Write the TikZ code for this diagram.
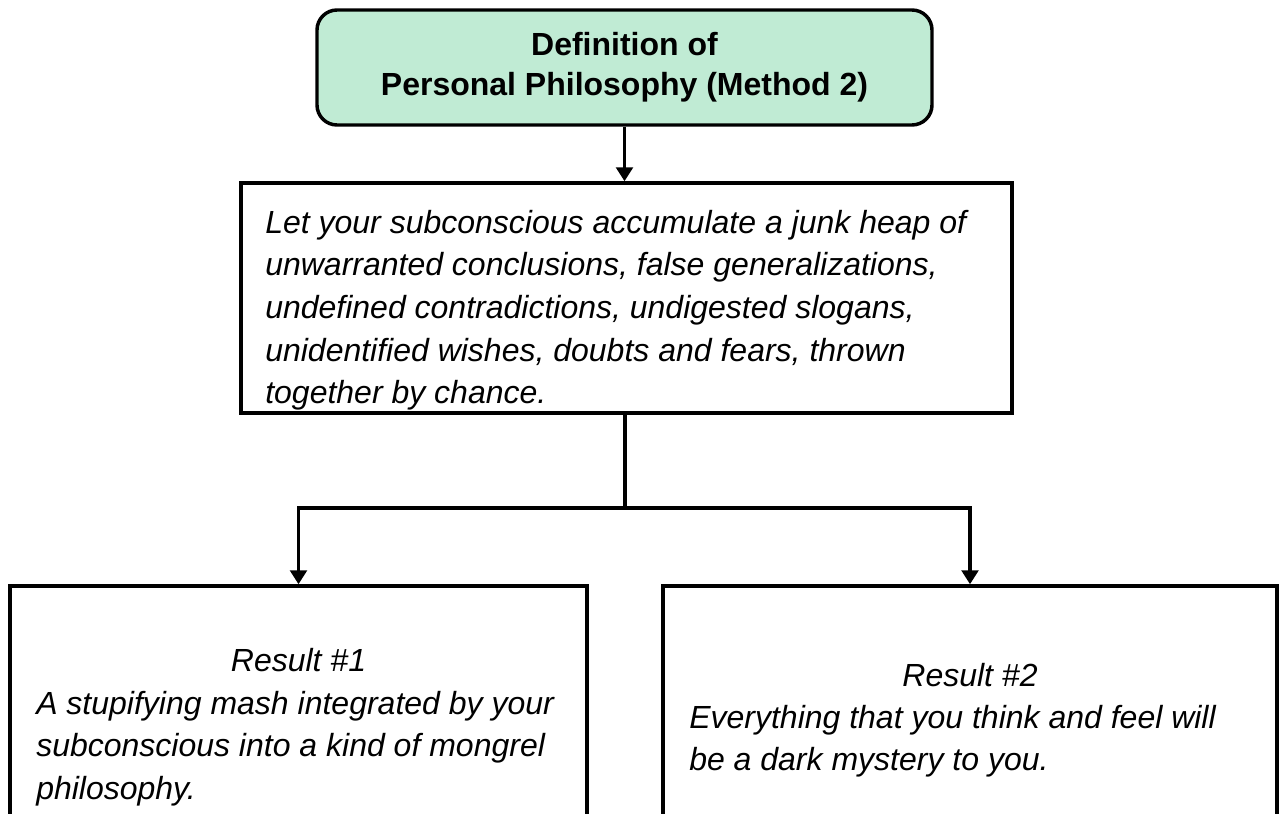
\documentclass[tikz,border=0pt]{standalone}
\usepackage{fontspec}
\setmainfont{Liberation Sans}
\usetikzlibrary{arrows.meta}
\definecolor{mint}{RGB}{192,235,212}
\begin{document}
\begin{tikzpicture}[x=0.75pt,y=-0.75pt,
  boxstyle/.style={draw=black, line width=2.6pt, fill=white, inner sep=0pt},
  conn/.style={line width=2.6pt},
  arr/.style={conn, -{Triangle[width=12.5pt,length=10.5pt]}},
  bodytext/.style={font=\fontsize{24}{31.9}\selectfont\itshape, align=left, inner sep=0pt},
]
\useasboundingbox (0,0) rectangle (1280,813);
\clip (0,0) rectangle (1280,813);
\node[boxstyle, fill=mint, rounded corners=15pt, minimum width=461.25pt, minimum height=86.25pt,
  align=center, font=\fontsize{24}{30}\selectfont\bfseries] (top) at (624.5,67.5)
  {Definition of\\Personal Philosophy (Method 2)};

\node[boxstyle, minimum width=578.25pt, minimum height=172.5pt] (mid) at (626.5,298) {};
\node[bodytext, anchor=north west] (midtext) at (265,210)
  {Let your subconscious accumulate a junk heap of\\unwarranted conclusions, false generalizations,\\undefined contradictions, undigested slogans,\\unidentified wishes, doubts and fears, thrown\\together by chance.};

\node[boxstyle, minimum width=432.75pt, minimum height=235.5pt] (left) at (298.5,743) {};
\node[bodytext, anchor=base] (lefttitle) at (298.5,671) {Result \#1};
\node[bodytext, anchor=north west] (leftbody) at (36,691)
  {A stupifying mash integrated by your\\subconscious into a kind of mongrel\\philosophy.};

\node[boxstyle, minimum width=460.5pt, minimum height=235.5pt] (right) at (970,743) {};
\node[bodytext, anchor=base] (righttitle) at (970,686) {Result \#2};
\node[bodytext, anchor=north west] (rightbody) at (689,705)
  {Everything that you think and feel will\\be a dark mystery to you.};

\draw[arr] (top.south) -- (top.south |- mid.north);
\coordinate (split) at (625,508);
\draw[conn] (mid.south -| split) -- (split);
\draw[arr] (split) -| (left.north);
\draw[arr] (split) -| (right.north);
\end{tikzpicture}
\end{document}
